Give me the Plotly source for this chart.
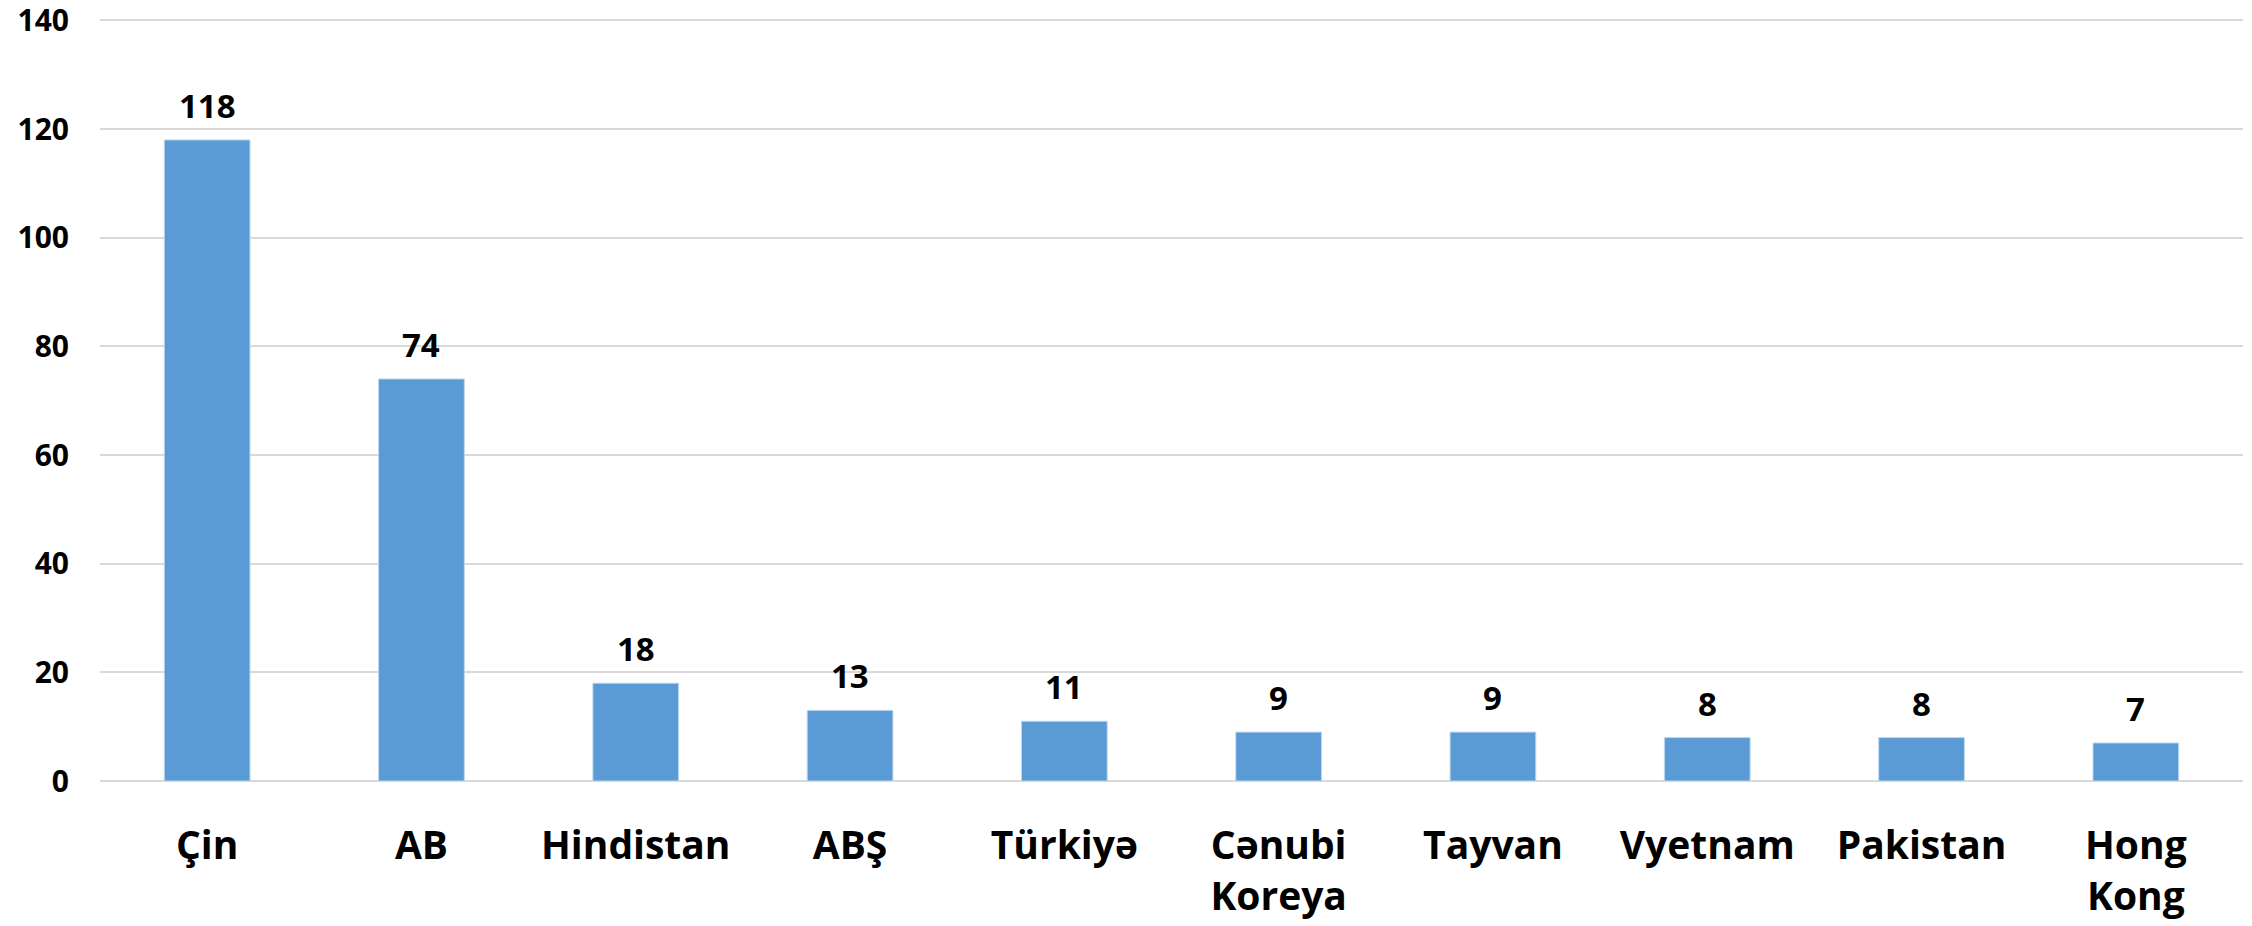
import plotly.graph_objects as go

categories = ["Çin", "AB", "Hindistan", "ABŞ", "Türkiyə", "Cənubi<br>Koreya",
              "Tayvan", "Vyetnam", "Pakistan", "Hong<br>Kong"]
values = [118, 74, 18, 13, 11, 9, 9, 8, 8, 7]
y_ticks = [0, 20, 40, 60, 80, 100, 120, 140]

FONT = "Open Sans"

fig = go.Figure(go.Bar(
    x=categories,
    y=values,
    marker=dict(color="#5B9BD5", line=dict(color="#BDD7EE", width=1)),
    hoverinfo="x+y",
))

for c, v in zip(categories, values):
    fig.add_annotation(
        x=c, y=v, text=f"<b>{v}</b>", showarrow=False,
        yanchor="bottom", yshift=10,
        font=dict(family=FONT, size=33, color="black"),
    )

fig.update_layout(
    width=2252, height=926,
    margin=dict(l=92, r=17, t=7, b=153, autoexpand=False),
    paper_bgcolor="white", plot_bgcolor="white",
    bargap=0.6,
    showlegend=False,
    font=dict(family=FONT, color="black"),
    xaxis=dict(
        tickfont=dict(family=FONT, size=39, color="black", weight="bold"),
        showgrid=False, showline=False, ticks="", ticklabelstandoff=38,
        automargin=False,
    ),
    yaxis=dict(
        range=[0, 141], tickvals=y_ticks,
        tickfont=dict(family=FONT, size=30, color="black", weight="bold"),
        showgrid=True, gridcolor="#D9D9D9", gridwidth=1.5,
        zeroline=True, zerolinecolor="#D9D9D9", zerolinewidth=1.5,
        showline=False, ticks="", ticklabelstandoff=30,
        ticklabeloverflow="allow",
        automargin=False,
    ),
)

fig.write_html("out.html")
